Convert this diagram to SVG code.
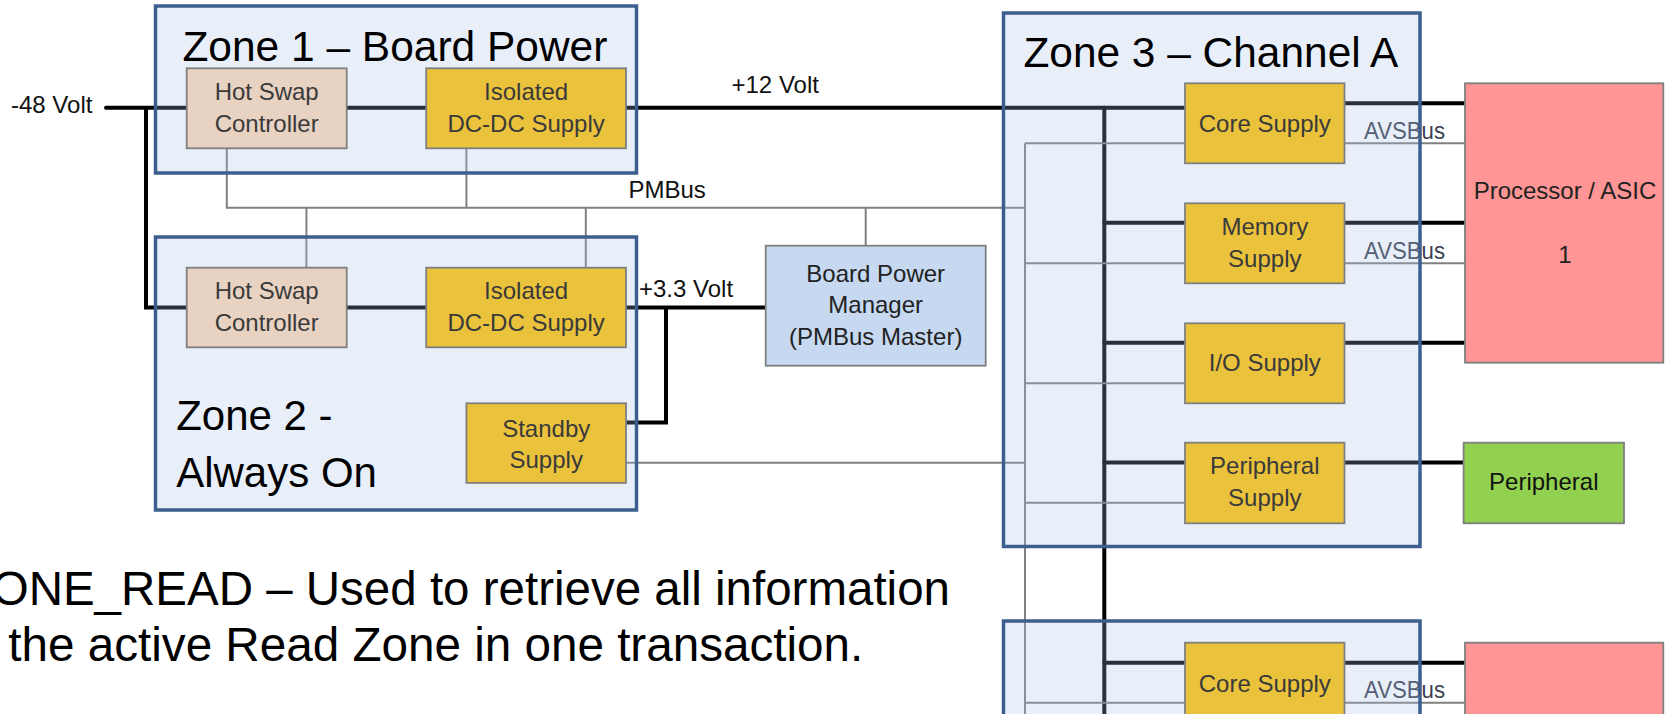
<svg xmlns="http://www.w3.org/2000/svg" width="1667" height="714" viewBox="0 0 1667 714">
<style>
.thick{stroke:#000;stroke-width:4;fill:none;stroke-linecap:round;stroke-linejoin:miter}
.thin{stroke:#808080;stroke-width:2;fill:none}
.zone{fill:#a9c1e6;fill-opacity:0.25;stroke:#3c5f8f;stroke-width:3.5}
.node{stroke:#7f7f7f;stroke-width:1.8}
.hs{fill:#e8d3c3}
.gold{fill:#ebc23c}
.bpm{fill:#c6d9f1}
.proc{fill:#ff9595}
.per{fill:#92d050}
.nt{font-family:"Liberation Sans",Arial,sans-serif;font-size:24px;fill:#3a3a3a;text-anchor:middle}
.lbl{font-family:"Liberation Sans",Arial,sans-serif;font-size:24px;fill:#111}
.avs{font-family:"Liberation Sans",Arial,sans-serif;font-size:23px;fill:#3a4150}
.zt{font-family:"Liberation Sans",Arial,sans-serif;font-size:42px;fill:#000}
.body{font-family:"Liberation Sans",Arial,sans-serif;font-size:47.5px;fill:#000}
</style>
<rect width="1667" height="714" fill="#fff"/>

<g id="connectors">
  <path class="thick" d="M106 107.7 H186.7 M146 107.7 V307.5 H186.7"/>
  <path class="thick" d="M346.7 107.7 H426.2 M346.7 307.5 H426.2"/>
  <path class="thick" d="M626 107.7 H1185"/>
  <path class="thick" d="M626 307.5 H765.7 M666 307.5 V422.5 H626"/>
  <path class="thick" d="M1104.3 107.7 V714"/>
  <path class="thick" d="M1104.3 222.7 H1185 M1104.3 342.7 H1185 M1104.3 462.5 H1185 M1104.3 662.7 H1185"/>
  <path class="thick" d="M1344.5 103.3 H1465 M1344.5 222.7 H1465 M1344.5 342.7 H1465 M1344.5 462.5 H1463.6 M1344.5 662.7 H1465"/>
  <path class="thin" d="M226.8 148.3 V207.7 H1025 M466.4 148.3 V207.7 M306.4 207.7 V267.7 M585.8 207.7 V268 M865.7 207.7 V245.7"/>
  <path class="thin" d="M626 462.7 H1025"/>
  <path class="thin" d="M1025 143.3 V714"/>
  <path class="thin" d="M1025 143.3 H1185 M1025 263.3 H1185 M1025 383.3 H1185 M1025 502.7 H1185 M1025 702.7 H1185"/>
  <path class="thin" d="M1344.5 143.3 H1465 M1344.5 263.3 H1465 M1344.5 702.7 H1465"/>
  <text class="lbl" x="11" y="112.5">-48 Volt</text>
  <text class="lbl" x="731.5" y="92.5">+12 Volt</text>
  <text class="lbl" x="628.5" y="197.5">PMBus</text>
  <text class="lbl" x="639" y="296.5">+3.3 Volt</text>
  <text class="avs" x="1364" y="138.5" textLength="81" lengthAdjust="spacingAndGlyphs">AVSBus</text>
  <text class="avs" x="1364" y="258.5" textLength="81" lengthAdjust="spacingAndGlyphs">AVSBus</text>
  <text class="avs" x="1364" y="698" textLength="81" lengthAdjust="spacingAndGlyphs">AVSBus</text>
</g>

<g id="zone1">
  <rect class="zone" x="155.5" y="6" width="481" height="167"/>
  <text class="zt" x="182.4" y="61" textLength="425" lengthAdjust="spacingAndGlyphs">Zone 1 – Board Power</text>
</g>
<g id="zone2">
  <rect class="zone" x="155.5" y="237" width="481" height="273"/>
  <text class="zt" x="176.2" y="430">Zone 2 -</text>
  <text class="zt" x="176.2" y="486.7">Always On</text>
</g>
<g id="zone3">
  <rect class="zone" x="1003.5" y="13" width="416.5" height="533.5"/>
  <text class="zt" x="1023.4" y="66.7" textLength="375" lengthAdjust="spacingAndGlyphs">Zone 3 – Channel A</text>
</g>
<g id="zone4">
  <rect class="zone" x="1003.5" y="621" width="416.5" height="130"/>
</g>

<g id="hotswap1">
  <rect class="node hs" x="186.7" y="68.3" width="160" height="80"/>
  <text class="nt" x="266.7" y="100">Hot Swap</text>
  <text class="nt" x="266.7" y="131.7">Controller</text>
</g>
<g id="dcdc1">
  <rect class="node gold" x="426.2" y="68.3" width="199.8" height="80"/>
  <text class="nt" x="526.1" y="100">Isolated</text>
  <text class="nt" x="526.1" y="131.7">DC-DC Supply</text>
</g>
<g id="hotswap2">
  <rect class="node hs" x="186.7" y="267.7" width="160" height="79.6"/>
  <text class="nt" x="266.7" y="299.4">Hot Swap</text>
  <text class="nt" x="266.7" y="331">Controller</text>
</g>
<g id="dcdc2">
  <rect class="node gold" x="426.2" y="267.7" width="199.8" height="79.6"/>
  <text class="nt" x="526.1" y="299.4">Isolated</text>
  <text class="nt" x="526.1" y="331">DC-DC Supply</text>
</g>
<g id="standby">
  <rect class="node gold" x="466.4" y="403.3" width="159.6" height="79.6"/>
  <text class="nt" x="546.2" y="436.7">Standby</text>
  <text class="nt" x="546.2" y="468.3">Supply</text>
</g>
<g id="bpm">
  <rect class="node bpm" x="765.7" y="245.7" width="220" height="120"/>
  <text class="nt" x="875.7" y="281.7" style="fill:#222">Board Power</text>
  <text class="nt" x="875.7" y="313.3" style="fill:#222">Manager</text>
  <text class="nt" x="875.7" y="345" style="fill:#222">(PMBus Master)</text>
</g>
<g id="core1">
  <rect class="node gold" x="1185" y="83.3" width="159.5" height="80"/>
  <text class="nt" x="1264.8" y="131.7">Core Supply</text>
</g>
<g id="memory">
  <rect class="node gold" x="1185" y="203.3" width="159.5" height="80"/>
  <text class="nt" x="1264.8" y="235">Memory</text>
  <text class="nt" x="1264.8" y="266.7">Supply</text>
</g>
<g id="io">
  <rect class="node gold" x="1185" y="323.3" width="159.5" height="80"/>
  <text class="nt" x="1264.8" y="371">I/O Supply</text>
</g>
<g id="periph-supply">
  <rect class="node gold" x="1185" y="442.7" width="159.5" height="80.6"/>
  <text class="nt" x="1264.8" y="474.3">Peripheral</text>
  <text class="nt" x="1264.8" y="506">Supply</text>
</g>
<g id="core2">
  <rect class="node gold" x="1185" y="642.7" width="159.5" height="90"/>
  <text class="nt" x="1264.8" y="691.7">Core Supply</text>
</g>
<g id="proc1">
  <rect class="node proc" x="1465" y="83.3" width="198.3" height="279.4"/>
  <text class="nt" x="1565" y="199.3" style="fill:#222">Processor / ASIC</text>
  <text class="nt" x="1565" y="263.3" style="fill:#222">1</text>
</g>
<g id="peripheral">
  <rect class="node per" x="1463.6" y="442.7" width="160.4" height="80.6"/>
  <text class="nt" x="1543.8" y="490" style="fill:#111">Peripheral</text>
</g>
<g id="proc2">
  <rect class="node proc" x="1465" y="642.7" width="198.3" height="90"/>
</g>

<g id="caption">
  <text class="body" x="950" y="605" text-anchor="end">ONE_READ – Used to retrieve all information</text>
  <text class="body" x="8.3" y="661" textLength="855" lengthAdjust="spacingAndGlyphs">the active Read Zone in one transaction.</text>
</g>
</svg>
